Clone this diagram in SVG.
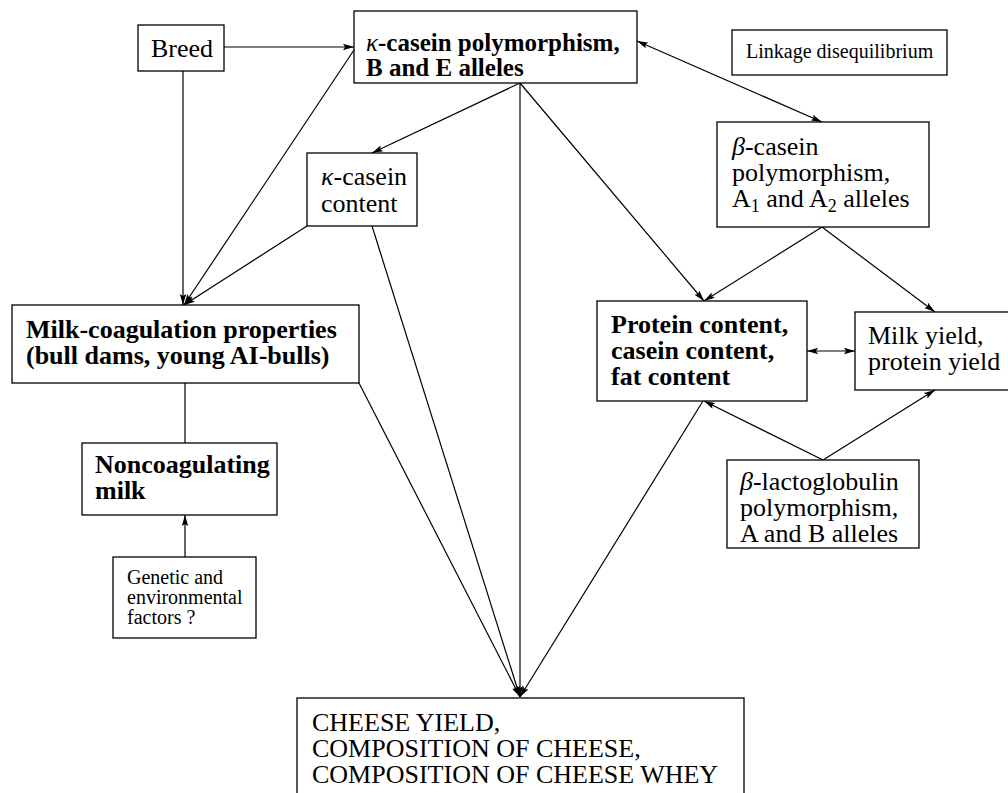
<svg xmlns="http://www.w3.org/2000/svg" width="1008" height="793" viewBox="0 0 1008 793">
<style>
.box{fill:#fff;stroke:#000;stroke-width:1.3}
.t{font-family:"Liberation Serif","Times New Roman",serif;font-size:26px;fill:#000}
.b{font-weight:bold}
.k{font-size:25px}
.s{font-size:20px}
.g{font-style:italic;font-weight:normal}
.c line{stroke:#000;stroke-width:1.2;fill:none}
</style>
<defs>
<marker id="ah" markerUnits="userSpaceOnUse" markerWidth="12" markerHeight="8" refX="11" refY="4" orient="auto-start-reverse">
<path d="M0,0.8 L11,4 L0,7.2 L2,4 z" fill="#000"/>
</marker>
</defs>
<rect width="1008" height="793" fill="#fff"/>
<g class="c" id="connectors">
<line x1="224" y1="47" x2="354" y2="47" marker-end="url(#ah)"/>
<line x1="183" y1="71" x2="183" y2="305" marker-end="url(#ah)"/>
<line x1="356" y1="47" x2="184" y2="305" marker-end="url(#ah)"/>
<line x1="307" y1="226" x2="184" y2="305" marker-end="url(#ah)"/>
<line x1="520" y1="83" x2="372" y2="153" marker-end="url(#ah)"/>
<line x1="520" y1="83" x2="520" y2="697" marker-end="url(#ah)"/>
<line x1="520" y1="83" x2="704" y2="301" marker-end="url(#ah)"/>
<line x1="637" y1="41" x2="822" y2="122" marker-start="url(#ah)" marker-end="url(#ah)"/>
<line x1="822" y1="227" x2="704" y2="301" marker-end="url(#ah)"/>
<line x1="822" y1="227" x2="935" y2="312" marker-end="url(#ah)"/>
<line x1="807" y1="351" x2="855" y2="351" marker-start="url(#ah)" marker-end="url(#ah)"/>
<line x1="823" y1="460" x2="704" y2="401" marker-end="url(#ah)"/>
<line x1="823" y1="460" x2="935" y2="390" marker-end="url(#ah)"/>
<line x1="372" y1="226" x2="520" y2="697" marker-end="url(#ah)"/>
<line x1="359" y1="383" x2="520" y2="697" marker-end="url(#ah)"/>
<line x1="703" y1="401" x2="520" y2="697" marker-end="url(#ah)"/>
<line x1="185" y1="383" x2="185" y2="443"/>
<line x1="185" y1="557" x2="185" y2="515" marker-end="url(#ah)"/>
</g>
<g id="breed"><rect class="box" x="138" y="25" width="86" height="46"/><text class="t" x="151" y="57">Breed</text></g>
<g id="kappa-poly"><rect class="box" x="354" y="11" width="283" height="72"/><text class="t b k" x="366" y="51"><tspan class="g">κ</tspan>-casein polymorphism,</text><text class="t b k" x="366" y="76">B and E alleles</text></g>
<g id="linkage"><rect class="box" x="732" y="30" width="215" height="45"/><text class="t s" x="746" y="58">Linkage disequilibrium</text></g>
<g id="beta-casein"><rect class="box" x="717" y="122" width="212" height="105"/><text class="t" x="732" y="155"><tspan class="g">β</tspan>-casein</text><text class="t" x="732" y="181">polymorphism,</text><text class="t" x="732" y="207">A<tspan font-size="18" dy="5">1</tspan><tspan dy="-5"> and A</tspan><tspan font-size="18" dy="5">2</tspan><tspan dy="-5"> alleles</tspan></text></g>
<g id="kappa-content"><rect class="box" x="307" y="153" width="110" height="73"/><text class="t" x="321" y="185"><tspan class="g">κ</tspan>-casein</text><text class="t" x="321" y="212">content</text></g>
<g id="milk-coag"><rect class="box" x="12" y="305" width="347" height="78"/><text class="t b" x="26" y="338">Milk-coagulation properties</text><text class="t b" x="26" y="364">(bull dams, young AI-bulls)</text></g>
<g id="protein"><rect class="box" x="597" y="301" width="210" height="100"/><text class="t b" x="611" y="333">Protein content,</text><text class="t b" x="611" y="359">casein content,</text><text class="t b" x="611" y="385">fat content</text></g>
<g id="milk-yield"><rect class="box" x="855" y="312" width="160" height="78"/><text class="t" x="868" y="344">Milk yield,</text><text class="t" x="868" y="370">protein yield</text></g>
<g id="noncoag"><rect class="box" x="82" y="443" width="195" height="72"/><text class="t b" x="95" y="473">Noncoagulating</text><text class="t b" x="95" y="499">milk</text></g>
<g id="beta-lacto"><rect class="box" x="727" y="460" width="192" height="88"/><text class="t" x="740" y="490"><tspan class="g">β</tspan>-lactoglobulin</text><text class="t" x="740" y="516">polymorphism,</text><text class="t" x="740" y="542">A and B alleles</text></g>
<g id="genetic"><rect class="box" x="113" y="557" width="143" height="81"/><text class="t s" x="127" y="584">Genetic and</text><text class="t s" x="127" y="604">environmental</text><text class="t s" x="127" y="624">factors ?</text></g>
<g id="cheese"><rect class="box" x="297" y="698" width="447" height="110"/><text class="t" x="312" y="731">CHEESE YIELD,</text><text class="t" x="312" y="757">COMPOSITION OF CHEESE,</text><text class="t" x="312" y="783">COMPOSITION OF CHEESE WHEY</text></g>
</svg>
